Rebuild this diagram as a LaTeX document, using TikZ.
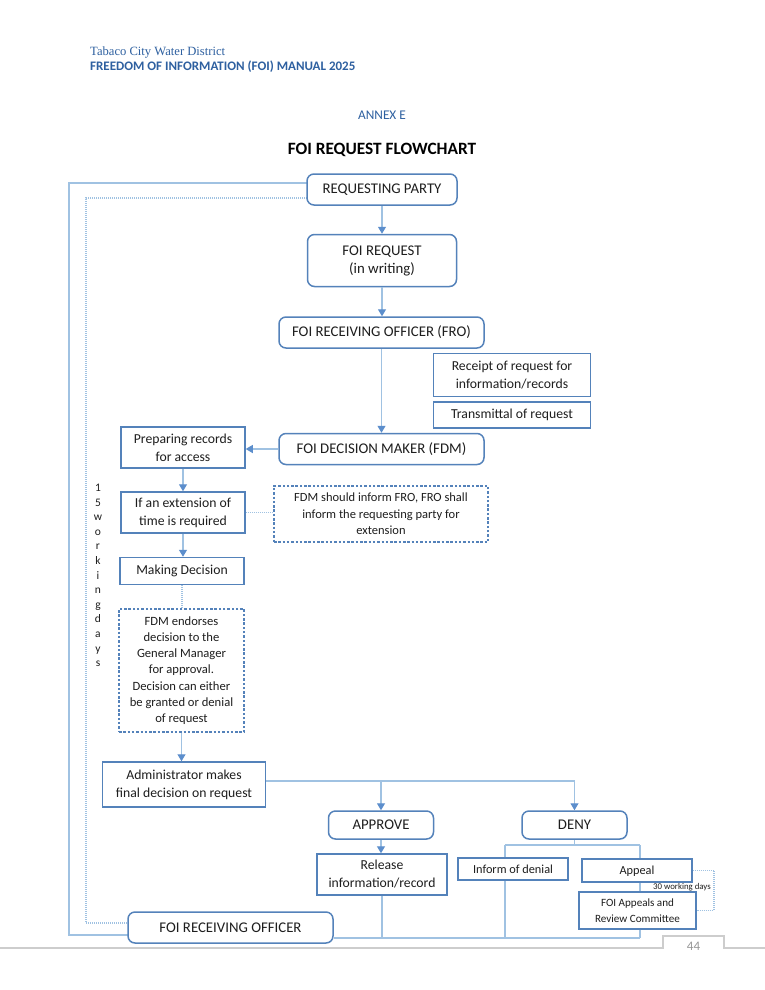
\documentclass[tikz,border=0pt]{standalone}
\usepackage{fontspec}
\setmainfont{Carlito}
\newfontfamily\hdrserif{Liberation Serif}
\usetikzlibrary{arrows.meta}
\definecolor{boxblue}{RGB}{84,130,186}
\definecolor{lineblue}{RGB}{160,194,226}
\definecolor{arrowblue}{RGB}{92,142,204}
\definecolor{hdrblue}{RGB}{46,96,160}
\definecolor{txt}{RGB}{30,30,30}
\definecolor{footgray}{RGB}{205,205,205}
\definecolor{numgray}{RGB}{150,150,150}
\newcommand{\fcap}{\fontsize{14.8}{18}\selectfont}
\newcommand{\flow}{\fontsize{13.7}{18}\selectfont}
\tikzset{
  rbox/.style={draw=boxblue, line width=1.5pt, rounded corners=7pt, fill=white, align=center, inner sep=0pt, text=txt, font=\fcap},
  sbox/.style={draw=boxblue, line width=1.5pt, fill=white, align=center, inner sep=0pt, text=txt, font=\flow},
  dbox/.style={draw=boxblue, line width=1.2pt, dash pattern=on 2.5pt off 1.8pt, fill=white, align=center, inner sep=0pt, text=txt},
  conn/.style={draw=lineblue, line width=1.1pt},
  arr/.style={conn, -{Triangle[length=7pt,width=8pt,color=arrowblue]}},
  dotconn/.style={draw=lineblue, line width=1.1pt, dash pattern=on 1pt off 1pt},
  lbl/.style={inner sep=0pt, text=txt}
}
\begin{document}
\begin{tikzpicture}[x=1pt,y=-1pt]
\path[fill=white] (0,0) rectangle (765,990);
\useasboundingbox (0,0) rectangle (765,990);

% header
\node[anchor=west, inner sep=0pt, text=hdrblue, font=\hdrserif\fontsize{12.6}{14}\selectfont] (h1) at (90,52) {Tabaco City Water District};
\node[anchor=west, inner sep=0pt, text=hdrblue, font=\bfseries\fontsize{13}{15}\selectfont] (h2) at (90,67) {FREEDOM OF INFORMATION (FOI) MANUAL 2025};
\node[inner sep=0pt, text=hdrblue, font=\fontsize{13.3}{15}\selectfont] (annex) at (382,115) {ANNEX E};
\node[inner sep=0pt, text=black, font=\bfseries\fontsize{17.3}{20}\selectfont] (title) at (382,150) {FOI REQUEST FLOWCHART};

% loops on the left (drawn first)
\draw[conn] (307,183) -- (69,183) -- (69,935) -- (128,935);
\draw[dotconn] (307,198) -- (86,198) -- (86,923) -- (128,923);

% nodes
\node[rbox, minimum width=150pt, minimum height=31pt] (rp) at (382,189.5) {REQUESTING PARTY};
\node[rbox, minimum width=149pt, minimum height=52pt] (req) at (382,260.5) {FOI REQUEST\\(in writing)};
\node[rbox, minimum width=205pt, minimum height=31pt] (fro) at (381.5,332.5) {FOI RECEIVING OFFICER (FRO)};
\node[sbox, minimum width=157pt, minimum height=43pt] (receipt) at (512,375) {Receipt of request for\\information/records};
\node[sbox, minimum width=157pt, minimum height=26pt] (trans) at (512,415) {Transmittal of request};
\node[rbox, minimum width=205pt, minimum height=31pt] (fdm) at (381.5,449) {FOI DECISION MAKER (FDM)};
\node[sbox, minimum width=124pt, minimum height=41pt] (prep) at (183,447.5) {Preparing records\\for access};
\node[sbox, minimum width=124pt, minimum height=41pt] (ext) at (183,512.5) {If an extension of\\time is required};
\node[dbox, minimum width=214pt, minimum height=56pt, font=\fontsize{12.5}{16.5}\selectfont] (finfo) at (381,514) {FDM should inform FRO, FRO shall\\inform the requesting party for\\extension};
\node[sbox, minimum width=124pt, minimum height=27pt] (mk) at (182,571) {Making Decision};
\node[dbox, minimum width=125pt, minimum height=123pt, font=\fontsize{12.6}{16.2}\selectfont] (endorse) at (181.5,670.5) {FDM endorses\\decision to the\\General Manager\\for approval.\\Decision can either\\be granted or denial\\of request};
\node[sbox, minimum width=163pt, minimum height=45pt] (admin) at (184,784.5) {Administrator makes\\final decision on request};
\node[rbox, minimum width=105pt, minimum height=28pt] (approve) at (381,825) {APPROVE};
\node[rbox, minimum width=105pt, minimum height=28pt] (deny) at (574.5,825) {DENY};
\node[sbox, minimum width=130pt, minimum height=41pt] (release) at (382,874.5) {Release\\information/record};
\node[sbox, minimum width=110pt, minimum height=22pt, text height=8pt, text depth=0pt, font=\fontsize{12.3}{15}\selectfont] (denial) at (513,869) {Inform of denial};
\node[sbox, minimum width=110pt, minimum height=23pt, text height=8pt, text depth=0pt, font=\fontsize{12.3}{15}\selectfont] (appeal) at (637,870.5) {Appeal};
\node[sbox, minimum width=117pt, minimum height=37pt, font=\fontsize{11.1}{16}\selectfont] (arc) at (637.5,910.5) {FOI Appeals and\\Review Committee};
\node[rbox, minimum width=205pt, minimum height=31pt] (fro2) at (230.5,927.5) {FOI RECEIVING OFFICER};

% vertical label
\node[lbl, align=center, font=\fontsize{11.5}{14.6}\selectfont] (days) at (98,575.5) {1\\5\\w\\o\\r\\k\\i\\n\\g\\d\\a\\y\\s};
\node[lbl, font=\fontsize{8.8}{10}\selectfont] (wd30) at (682,887.5) {30 working days};

% connectors
\draw[arr] (rp.south) -- (rp.south |- req.north);
\draw[arr] (req.south) -- (req.south |- fro.north);
\draw[arr] (fro.south) -- (fro.south |- fdm.north);
\draw[arr] (fdm.west) -- (fdm.west -| prep.east);
\draw[arr] (prep.south) -- (prep.south |- ext.north);
\draw[arr] (ext.south) -- (ext.south |- mk.north);
\draw[dotconn] (ext.east) -- (ext.east -| finfo.west);
\draw[dotconn] (mk.south) -- (mk.south |- endorse.north);
\draw[arr] (endorse.south) -- (endorse.south |- admin.north);

\coordinate (j1) at (381,781);
\coordinate (j2) at (574.5,781);
\draw[conn] ([yshift=3.5pt]admin.east) -- (j2);
\draw[arr] (j1) -- (approve.north);
\draw[arr] (j2) -- (deny.north);
\draw[arr] (approve.south) -- (approve.south |- release.north);

\coordinate (d0) at (574.5,845);
\coordinate (d1) at (505,845);
\coordinate (d2) at (640,845);
\draw[conn] (deny.south) -- (d0);
\draw[conn] (d1) -- (d2);
\draw[conn] (d1) -- (d1 |- denial.north);
\draw[conn] (d2) -- (d2 |- appeal.north);
\draw[conn] (d2 |- appeal.south) -- (d2 |- arc.north);

\coordinate (b1) at (382,938);
\coordinate (b2) at (505,938);
\coordinate (b3) at (640,938);
\draw[conn] ([yshift=-10.5pt]fro2.east) -- (b3);
\draw[conn] (release.south) -- (b1);
\draw[conn] (b2 |- denial.south) -- (b2);
\draw[conn] (b3 |- arc.south) -- (b3);

\draw[dotconn] (appeal.east) -- (714,870.5) -- (714,910.5) -- (arc.east);

% footer
\draw[footgray, line width=1.2pt] (0,948) -- (663,948) -- (663,936) -- (724,936) -- (724,948) -- (765,948);
\node[inner sep=0pt, text=numgray, font=\fontsize{13}{15}\selectfont] (pg) at (693.5,946) {44};
\end{tikzpicture}
\end{document}
